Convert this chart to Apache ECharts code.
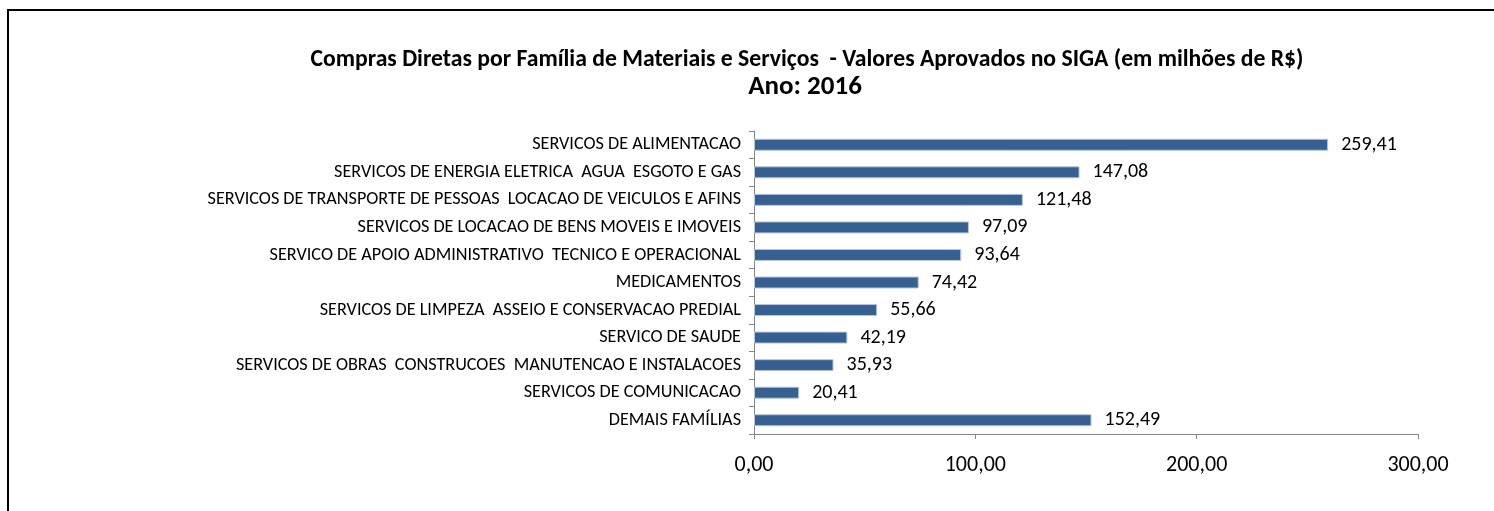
<!DOCTYPE html>
<html>
<head>
<meta charset="utf-8">
<script src="https://cdn.jsdelivr.net/npm/echarts@6/dist/echarts.min.js"></script>
<style>
  html, body { margin: 0; padding: 0; background: #fff; }
  #chart { width: 1494px; height: 511px; }
  #frame { position: absolute; left: 7px; top: 9px; width: 1500px; height: 520px; border: 2px solid #000; pointer-events: none; }
</style>
</head>
<body>
<div id="chart"></div>
<div id="frame"></div>
<script>
// dados
var familias = [
  'SERVICOS DE ALIMENTACAO',
  'SERVICOS DE ENERGIA ELETRICA  AGUA  ESGOTO E GAS',
  'SERVICOS DE TRANSPORTE DE PESSOAS  LOCACAO DE VEICULOS E AFINS',
  'SERVICOS DE LOCACAO DE BENS MOVEIS E IMOVEIS',
  'SERVICO DE APOIO ADMINISTRATIVO  TECNICO E OPERACIONAL',
  'MEDICAMENTOS',
  'SERVICOS DE LIMPEZA  ASSEIO E CONSERVACAO PREDIAL',
  'SERVICO DE SAUDE',
  'SERVICOS DE OBRAS  CONSTRUCOES  MANUTENCAO E INSTALACOES',
  'SERVICOS DE COMUNICACAO',
  'DEMAIS FAMÍLIAS'
];
var valores = [259.41, 147.08, 121.48, 97.09, 93.64, 74.42, 55.66, 42.19, 35.93, 20.41, 152.49];
var eixoX = [0, 300, 100]; // min, max, intervalo

var fonte = "Carlito, 'Liberation Sans Narrow', 'Open Sans', sans-serif";
function fmt(v) { return Number(v).toFixed(2).replace('.', ','); }

var myChart = echarts.init(document.getElementById('chart'));
var option = {
  animation: false,
  title: [
    {
      text: 'Compras Diretas por Família de Materiais e Serviços  - Valores Aprovados no SIGA (em milhões de R$)',
      left: 802, top: 43, textAlign: 'center',
      textStyle: { fontFamily: fonte, fontSize: 23.7, fontWeight: 'bold', color: '#000' }
    },
    {
      text: 'Ano: 2016',
      left: 800, top: 69, textAlign: 'center',
      textStyle: { fontFamily: fonte, fontSize: 27, fontWeight: 'bold', color: '#000' }
    }
  ],
  grid: { left: 754, right: 76, top: 131, bottom: 77 },
  xAxis: {
    type: 'value',
    min: eixoX[0], max: eixoX[1], interval: eixoX[2],
    axisLine: { show: true, lineStyle: { color: '#868686', width: 1 } },
    axisTick: { show: true, length: 5, lineStyle: { color: '#868686' } },
    splitLine: { show: false },
    axisLabel: { formatter: fmt, margin: 20, fontFamily: fonte, fontSize: 22, color: '#000' }
  },
  yAxis: {
    type: 'category',
    inverse: true,
    data: familias,
    axisLine: { show: true, lineStyle: { color: '#868686', width: 1 } },
    axisTick: { show: true, length: 5, lineStyle: { color: '#868686' } },
    axisLabel: { margin: 13, fontFamily: fonte, fontSize: 18.2, color: '#000' }
  },
  series: [{
    type: 'bar',
    data: valores,
    barWidth: 12,
    itemStyle: { color: '#376092', borderColor: '#b7c6db', borderWidth: 1 },
    label: {
      show: true, position: 'right', distance: 13,
      formatter: function (p) { return fmt(p.value); },
      fontFamily: fonte, fontSize: 20, color: '#000'
    }
  }]
};
myChart.setOption(option);
</script>
</body>
</html>
